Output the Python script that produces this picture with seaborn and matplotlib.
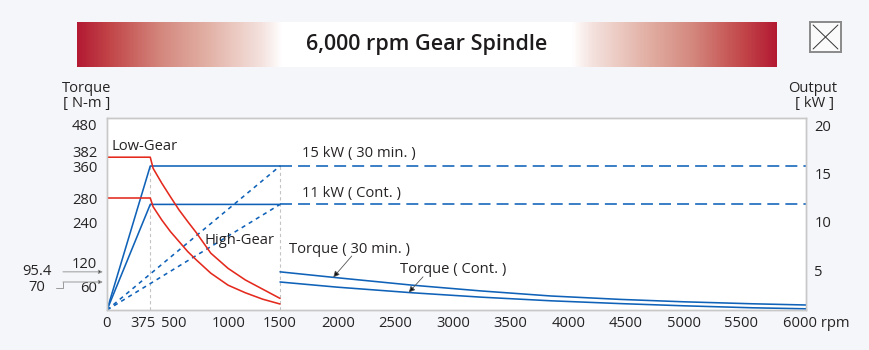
import numpy as np
import pandas as pd
import matplotlib
matplotlib.use("Agg")
import matplotlib.pyplot as plt
import seaborn as sns
from matplotlib.colors import LinearSegmentedColormap
from matplotlib.transforms import ScaledTranslation, blended_transform_factory

# ---------------------------------------------------------------- data
# Low-gear torque [N-m] against spindle speed [rpm]
low_rpm = [0, 375, 400, 475, 550, 625, 700, 775, 900, 1050, 1200, 1350, 1500]
low_torque_30min = [382, 382, 354, 317, 283, 250, 221, 193, 142, 104, 75, 52, 29]
low_torque_cont = [280, 280, 258, 225, 196, 171, 146, 125, 92, 62, 43, 27, 15]

# High-gear torque [N-m] above the gear-change speed
high_rpm = [1500, 2000, 2650, 3250, 3850, 4450, 5000, 5600, 6060]
high_torque_30min = [95.4, 80.5, 62, 47.5, 35, 26.5, 20.5, 15.5, 12.5]
high_torque_cont = [70, 57, 43, 32, 23, 16, 10.5, 5.5, 3]

# Output [kW]
base_rpm = 375
gear_change_rpm = 1500
max_rpm = 6060
power_30min = 15
power_cont = 11

torque_ticks = [60, 120, 240, 280, 360, 382, 480]
power_ticks = [5, 10, 15, 20]
rpm_ticks = [0, 375, 500, 1000, 1500, 2000, 2500, 3000, 3500, 4000, 4500, 5000, 5500, 6000]

title = "6,000 rpm Gear Spindle"

# ---------------------------------------------------------------- style
sns.set_theme(style="white")
plt.rcParams["font.family"] = ["Open Sans", "DejaVu Sans"]

BG = "#f4f6f9"
BLUE = "#0f62b8"
RED = "#e4291d"
TXT = "#262324"
GRID = "#c4c4c4"
DPI = 100
FS = 10.6

fig = plt.figure(figsize=(8.7, 3.5), dpi=DPI, facecolor=BG)

# title banner with a crimson-to-white gradient on both ends
bx0, bx1, by0, by1 = 77, 777, 22, 67
bax = fig.add_axes([bx0 / 870, 1 - by1 / 350, (bx1 - bx0) / 870, (by1 - by0) / 350])
grad_cmap = LinearSegmentedColormap.from_list(
    "banner",
    [(0.0, "#b31a33"), (0.16, "#c24649"), (0.41, "#d4887e"),
     (0.65, "#e3b3a8"), (0.9, "#f4e2de"), (1.0, "#ffffff")])
u = np.linspace(-1, 1, 700)
t = np.clip((1 - np.abs(u)) / 0.586, 0, 1)
bax.imshow(t[None, :], aspect="auto", cmap=grad_cmap, vmin=0, vmax=1,
           extent=[0, 1, 0, 1])
bax.set_axis_off()
bax.text(0.5, 0.5, title, ha="center", va="center", fontsize=15.5,
         fontweight="semibold", color="#1e1b1c", transform=bax.transAxes)

# close box
cax = fig.add_axes([810 / 870, 1 - 52 / 350, 31 / 870, 30 / 350])
cax.set_xlim(0, 1)
cax.set_ylim(0, 1)
cax.set_xticks([])
cax.set_yticks([])
cax.set_facecolor("#fafafa")
for s in cax.spines.values():
    s.set_color("#8a8a8a")
    s.set_linewidth(1.4)
cax.plot([0.1, 0.9], [0.1, 0.9], color="#333333", lw=0.7)
cax.plot([0.1, 0.9], [0.9, 0.1], color="#333333", lw=0.7)

# main axes: torque on the left, output on the right
ax = fig.add_axes([107 / 870, 1 - 310 / 350, 699 / 870, 192 / 350])
ax2 = ax.twinx()
ax.set_zorder(ax2.get_zorder() + 1)
ax.patch.set_visible(False)
ax2.patch.set_visible(True)
ax2.patch.set_facecolor("white")

ax.set_xlim(0, max_rpm)
ax.set_ylim(0, 480)
ax2.set_ylim(0, 20)

# ---------------------------------------------------------------- output lines
lw = 1.15
pw_low = pd.DataFrame({"rpm": [0, base_rpm, gear_change_rpm],
                       "p30": [0, power_30min, power_30min],
                       "pc": [0, power_cont, power_cont]})
pw_ramp = pd.DataFrame({"rpm": [0, gear_change_rpm],
                        "p30": [0, power_30min], "pc": [0, power_cont]})
pw_high = pd.DataFrame({"rpm": [gear_change_rpm, max_rpm],
                        "p30": [power_30min, power_30min],
                        "pc": [power_cont, power_cont]})

for col in ["p30", "pc"]:
    sns.lineplot(data=pw_low, x="rpm", y=col, ax=ax2, color=BLUE, lw=lw,
                 sort=False, estimator=None)
    sns.lineplot(data=pw_ramp, x="rpm", y=col, ax=ax2, color=BLUE, lw=lw,
                 linestyle=(0, (2.6, 2.6)), sort=False, estimator=None)
    sns.lineplot(data=pw_high, x="rpm", y=col, ax=ax2, color=BLUE, lw=lw,
                 linestyle=(0, (7.5, 3.8)), sort=False, estimator=None)

# guide lines at base speed and gear-change speed
for r in [base_rpm, gear_change_rpm]:
    ax2.plot([r, r], [0, power_30min], color=GRID, lw=0.8,
             linestyle=(0, (3, 2.5)), zorder=1)

# ---------------------------------------------------------------- torque curves
low = pd.DataFrame({"rpm": low_rpm, "t30": low_torque_30min, "tc": low_torque_cont})
high = pd.DataFrame({"rpm": high_rpm, "t30": high_torque_30min, "tc": high_torque_cont})
for col in ["t30", "tc"]:
    sns.lineplot(data=low, x="rpm", y=col, ax=ax, color=RED, lw=lw,
                 sort=False, estimator=None)
    sns.lineplot(data=high, x="rpm", y=col, ax=ax, color=BLUE, lw=lw,
                 sort=False, estimator=None)

# ---------------------------------------------------------------- annotations
tkw = dict(fontsize=FS, color=TXT, ha="left", va="baseline")
ax.text(43, 400, "Low-Gear", **tkw)
ax.text(841, 165, "High-Gear", **tkw)
ax.text(1690, 383, "15 kW ( 30 min. )", **tkw)
ax.text(1690, 282, "11 kW ( Cont. )", **tkw)
ax.text(1578, 143, "Torque ( 30 min. )", **tkw)
ax.text(2540, 92, "Torque ( Cont. )", **tkw)

arrow = dict(arrowstyle="-|>", edgecolor="#555555", facecolor="#111111",
             lw=0.6, mutation_scale=9, shrinkA=0, shrinkB=0)
tip1 = 1962
ax.annotate("", xy=(tip1, np.interp(tip1, high_rpm, high_torque_30min)),
            xytext=(2122, 135), arrowprops=arrow)
tip2 = 2616
ax.annotate("", xy=(tip2, np.interp(tip2, high_rpm, high_torque_cont)),
            xytext=(2740, 83), arrowprops=arrow)

# high-gear torque at the gear-change speed, marked on the left axis
bt = blended_transform_factory(ax.transAxes, ax.transData)
side_arrow = dict(arrowstyle="-|>", edgecolor="#9a9a9a", facecolor="#222222",
                  lw=0.7, mutation_scale=6, shrinkA=0, shrinkB=0)
t30_gc = high_torque_30min[0]
tc_gc = high_torque_cont[0]
ax.annotate("", xy=(-0.006, t30_gc), xytext=(-0.063, t30_gc), xycoords=bt,
            textcoords=bt, arrowprops=side_arrow, annotation_clip=False)
ax.text(-0.079, t30_gc, f"{t30_gc:g}", transform=bt, ha="right", va="center",
        fontsize=FS, color=TXT)
ax.annotate("", xy=(-0.006, tc_gc), xytext=(-0.063, tc_gc), xycoords=bt,
            textcoords=bt, arrowprops=side_arrow, annotation_clip=False)
ax.plot([-0.073, -0.063, -0.063], [56, 56, tc_gc], transform=bt,
        color="#9a9a9a", lw=0.7, clip_on=False)
ax.text(-0.088, 57, f"{tc_gc:g}", transform=bt, ha="right", va="center",
        fontsize=FS, color=TXT)

# ---------------------------------------------------------------- axes styling
ax.set_xticks(rpm_ticks)
ax.set_xticklabels([f"{r}" if r != 6000 else "6000 rpm" for r in rpm_ticks])
ax.set_yticks(torque_ticks)
ax.set_yticklabels([f"{v}" for v in torque_ticks])
ax2.set_yticks(power_ticks)
ax2.set_yticklabels([f"{v}" for v in power_ticks])
ax.set_xlabel("")
ax.set_ylabel("")
ax2.set_ylabel("")
ax.tick_params(axis="both", length=0, labelsize=FS, labelcolor=TXT)
ax.tick_params(axis="x", pad=4)
ax.tick_params(axis="y", pad=7)
ax2.tick_params(axis="y", length=0, labelsize=FS, labelcolor=TXT, pad=6)
for a in (ax, ax2):
    for s in a.spines.values():
        s.set_color("#c8c8c8")
        s.set_linewidth(1.0)


def nudge(label, dx=0.0, dy=0.0):
    label.set_transform(label.get_transform()
                        + ScaledTranslation(dx / DPI, dy / DPI, fig.dpi_scale_trans))


x_shift = {375: -7, 500: 9, 1000: 6, 6000: 17}
for r, lab in zip(rpm_ticks, ax.get_xticklabels()):
    nudge(lab, dx=x_shift.get(r, 0))
y_shift = {480: -6, 382: 6, 240: -9}
for v, lab in zip(torque_ticks, ax.get_yticklabels()):
    nudge(lab, dy=y_shift.get(v, 0))
for lab in ax2.get_yticklabels():
    nudge(lab, dy=-8)

# axis titles
fig.text(87 / 870, 1 - 89 / 350, "Torque", ha="center", va="center", fontsize=FS, color=TXT)
fig.text(87 / 870, 1 - 104 / 350, "[ N-m ]", ha="center", va="center", fontsize=FS, color=TXT)
fig.text(813 / 870, 1 - 89 / 350, "Output", ha="center", va="center", fontsize=FS, color=TXT)
fig.text(815 / 870, 1 - 104 / 350, "[ kW ]", ha="center", va="center", fontsize=FS, color=TXT)

fig.savefig("out.png", dpi=DPI, facecolor=BG)
